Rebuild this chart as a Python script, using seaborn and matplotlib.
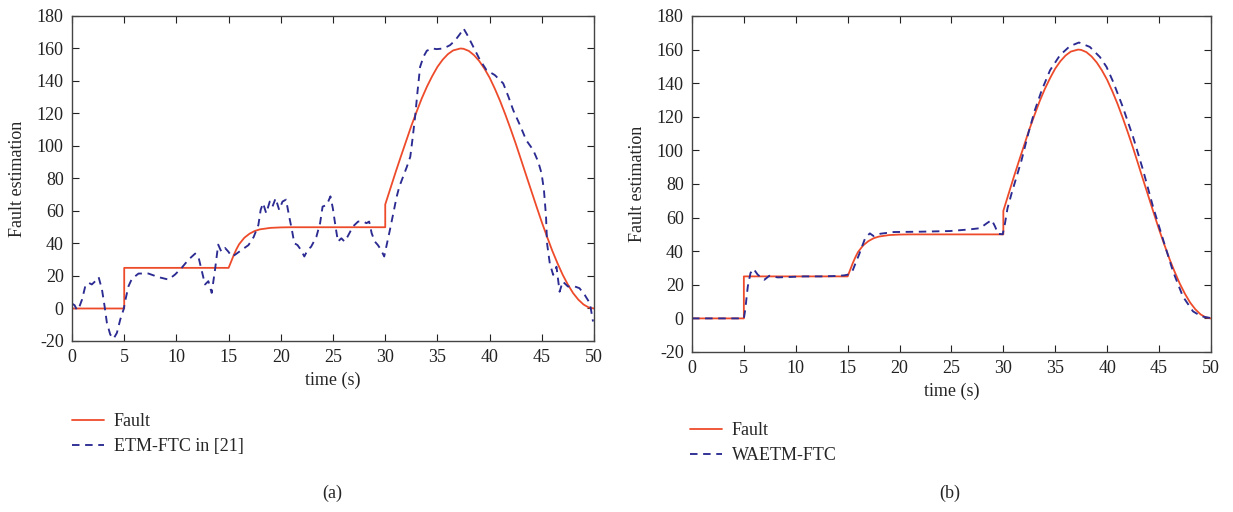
import matplotlib
matplotlib.use("Agg")
import matplotlib.pyplot as plt
import seaborn as sns
import pandas as pd

# Fault signal
fault_t = [0, 5, 5, 15, 15.25, 15.5, 15.75, 16, 16.5, 17, 17.5, 18, 19, 20, 21,
           30, 30, 30.5, 31, 31.5, 32, 32.5, 33, 33.5, 34, 34.5, 35, 35.5, 36, 36.5,
           37.2, 37.5, 38, 38.5, 39, 39.5, 40, 40.5, 41, 41.5, 42, 42.5, 43, 43.5,
           44, 44.5, 45, 45.5, 46, 46.5, 47, 47.5, 48, 48.5, 49, 49.5, 50]
fault_v = [0, 0, 25, 25, 29, 33, 36.5, 39.5, 43.5, 46, 47.7, 48.7, 49.6, 49.9, 50,
           50, 64, 74, 84, 93.6, 103, 112.4, 121, 129.3, 136.6, 143, 148.7, 153.1, 156.5, 158.8,
           160, 159.8, 158.5, 155.9, 152.3, 147.6, 142, 135.2, 127.7, 119.4, 110.6, 101.4, 91.7, 81.9,
           72.2, 62.5, 53, 44.1, 35.5, 27.8, 20.7, 14.6, 9.4, 5.4, 2.4, 0.6, 0]

# ETM-FTC in [21] (panel a)
etm_t = [0, 0.25, 0.48, 0.7, 0.96, 1.27, 1.59, 1.9, 2.23, 2.55, 2.87, 3.12, 3.34, 3.66, 3.98,
         4.3, 4.62, 4.94, 5.16, 5.41, 5.73, 6.37, 7.32, 8.28, 9.24, 9.87, 10.5, 11.15, 11.8,
         12.1, 12.4, 12.74, 13.06, 13.38, 13.7, 14.0, 14.3, 14.65, 14.97, 15.3, 15.6, 16.24,
         16.9, 17.4, 17.85, 18.07, 18.3, 18.6, 18.94, 19.2, 19.5, 19.84, 20.16, 20.5, 20.8,
         21.06, 21.29, 21.6, 21.93, 22.25, 22.57, 22.9, 23.4, 23.76, 24.0, 24.4, 24.75, 24.98,
         25.24, 25.47, 25.8, 26.1, 26.4, 26.9, 27.4, 27.9, 28.2, 28.46, 28.7, 29.0, 29.3, 29.6,
         29.9, 30.1, 30.45, 30.77, 31.1, 31.35, 31.7, 32.06, 32.4, 32.6, 32.86, 33.1, 33.34,
         33.66, 33.98, 34.46, 34.94, 35.57, 36.2, 36.7, 37.17, 37.5, 37.87, 38.44, 39.08, 39.7,
         40.5, 41.3, 41.8, 42.26, 42.9, 43.5, 44.17, 44.65, 44.97, 45.2, 45.4, 45.5, 45.76,
         46.08, 46.4, 46.7, 47.0, 47.5, 48.0, 48.6, 49.1, 49.6, 49.9]
etm_v = [3, 2, -1, 1, 5.5, 13.7, 15.8, 14.8, 16.8, 19.3, 11.7, 1.4, -8.8, -16, -18.6,
         -15, -6.8, -0.6, 6.6, 13.7, 18.2, 21.5, 21.5, 19.3, 17.8, 20.9, 25, 30, 33.8,
         32, 24, 14.8, 16.8, 9.6, 24, 39.3, 35, 37.3, 35, 32, 33, 36,
         39, 44, 51.4, 60.7, 64.8, 58.6, 65.8, 62.7, 67.8, 60.7, 65.8, 67, 56.6,
         48.4, 40.2, 39, 36, 32, 36, 38, 44, 52.5, 62.7, 63.7, 69, 61.7,
         50.4, 41.2, 43.2, 41.2, 44.3, 50.4, 53.5, 53.5, 52.5, 53.5, 46.3, 41.2, 39, 36,
         32, 38, 48.4, 58.6, 68.9, 75, 81, 87, 93.4, 103.7, 118, 134, 148.7,
         154.9, 158.6, 160, 159.6, 160, 162, 165, 169, 172.3, 168.2, 161, 152.8, 146.7,
         143.6, 138.5, 130.3, 122, 112.9, 103.6, 97.5, 90.3, 83.2, 72.9, 56.5, 40, 27.8,
         20.7, 25.7, 10.3, 16.6, 13.5, 13.9, 12.5, 8.4, 3.2, -8]

# WAETM-FTC (panel b)
waetm_t = [0, 5, 5.13, 5.38, 5.64, 5.93, 6.34, 6.98, 7.46, 8.26, 9.2, 10.8, 12.4, 13.7,
           14.65, 15.0, 15.45, 15.77, 16.1, 16.4, 16.7, 17.14, 17.5, 18.16, 19.44, 22,
           24.87, 26.8, 27.76, 28.4, 28.88, 29.2, 29.5, 29.94, 30.16, 30.4, 30.8, 31.28,
           31.76, 32.4, 33.04, 33.7, 34.5, 35.45, 36.4, 37.28, 38.33, 39.3, 39.94, 40.58,
           41.5, 42.5, 43.46, 44.42, 45.4, 46.35, 47.3, 48.27, 49.07, 50]
waetm_v = [0, 0, 5, 19, 27, 29.5, 26, 23, 25.4, 24.4, 24.6, 25, 25, 25.2,
           25.6, 26, 28, 33, 38, 43, 48, 50.6, 49, 50.4, 51.4, 51.6,
           52, 53, 53.7, 56.6, 58.6, 54.7, 50.3, 50.1, 56.6, 65.5, 74.5, 84.4,
           94.3, 110, 124, 135.8, 147.7, 156.6, 162, 164.2, 161.6, 155.6, 149.7, 140.8,
           126, 108, 88.3, 66.5, 46.7, 27.9, 13, 4.2, 1.2, 0.2]

RED = "#ee4b2b"
BLUE = "#2b2b92"

sns.set_style("ticks")
plt.rcParams["font.family"] = ["Liberation Serif", "DejaVu Serif"]
plt.rcParams["axes.unicode_minus"] = False
plt.rcParams["font.size"] = 13

fig = plt.figure(figsize=(12.33, 5.12), dpi=100)
ax_a = fig.add_axes([0.0584, 0.334, 0.4234, 0.6348])
ax_b = fig.add_axes([0.5612, 0.3125, 0.4209, 0.6563])

panels = [
    (ax_a, etm_t, etm_v, "ETM-FTC in [21]", (0.0584, 0.193), -0.095, "(a)", 332),
    (ax_b, waetm_t, waetm_v, "WAETM-FTC", (0.5596, 0.176), -0.092, "(b)", 950),
]

for ax, est_t, est_v, est_name, leg_xy, xlab_y, cap, cap_x in panels:
    df_f = pd.DataFrame({"t": fault_t, "v": fault_v})
    df_e = pd.DataFrame({"t": est_t, "v": est_v})
    sns.lineplot(data=df_f, x="t", y="v", ax=ax, color=RED, lw=1.3,
                 estimator=None, sort=False, label="Fault")
    sns.lineplot(data=df_e, x="t", y="v", ax=ax, color=BLUE, lw=1.35,
                 estimator=None, sort=False, label=est_name, linestyle=(0, (4, 3)))

    ax.set_xlim(0, 50)
    ax.set_ylim(-20, 180)
    ax.set_xticks(range(0, 51, 5))
    ax.set_yticks(range(-20, 181, 20))
    ax.tick_params(direction="in", top=True, right=True, length=5, width=0.8,
                   pad=6, labelsize=13, colors="#222222")
    for sp in ax.spines.values():
        sp.set_linewidth(1.0)
        sp.set_color("#444444")

    ax.set_xlabel("time (s)", fontsize=13)
    ax.set_ylabel("Fault estimation", fontsize=13)
    ax.xaxis.set_label_coords(0.5, xlab_y)
    ax.yaxis.set_label_coords(-0.088, 0.5)

    ax.legend(loc="upper left", bbox_to_anchor=leg_xy, bbox_transform=fig.transFigure,
              frameon=False, borderpad=0, borderaxespad=0, handlelength=1.75,
              handletextpad=0.55, labelspacing=0.45, fontsize=13)

    fig.text(cap_x / 1233, 1 - 493 / 512, cap, ha="center", va="center", fontsize=13)

fig.savefig("out.png", dpi=100)
